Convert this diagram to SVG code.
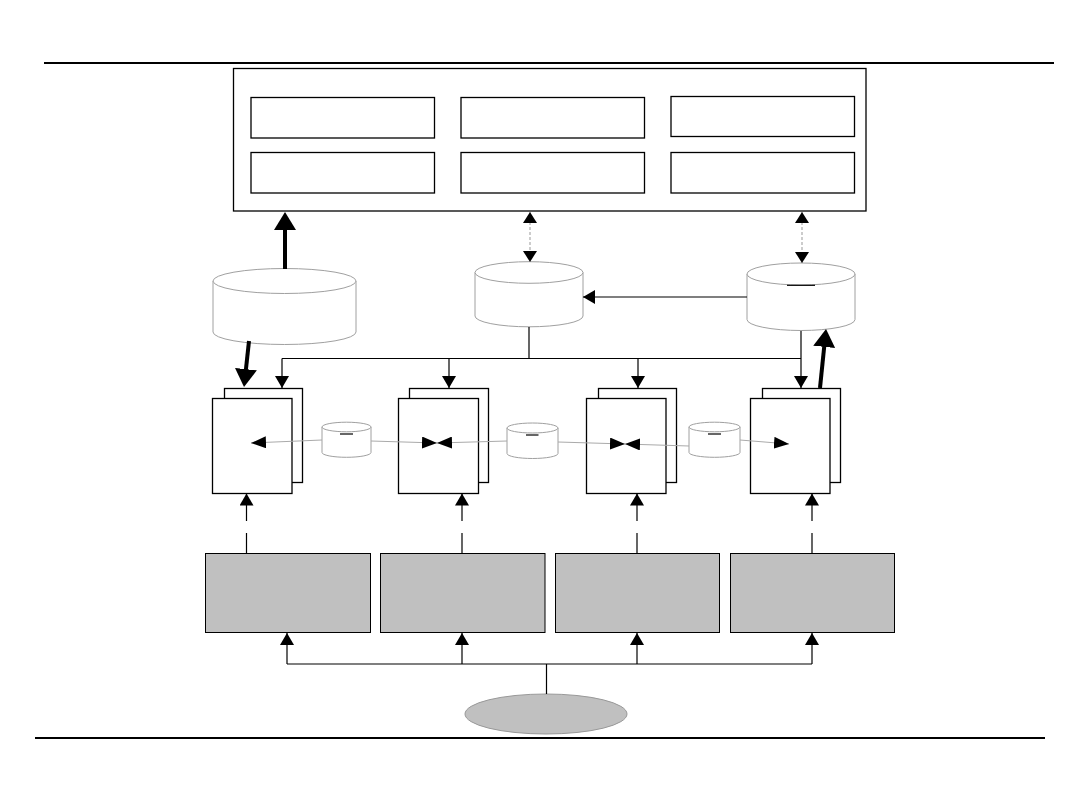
<svg xmlns="http://www.w3.org/2000/svg" width="1080" height="810" viewBox="0 0 1080 810">
<style>
.box{fill:#fff;stroke:#000;stroke-width:1.3}
.gbox{fill:#c0c0c0;stroke:#000;stroke-width:1}
.cyl{fill:#fff;stroke:#a0a0a0;stroke-width:1}
.ln{fill:none;stroke:#000;stroke-width:1.2}
.thick{fill:none;stroke:#000;stroke-width:4}
.dash{fill:none;stroke:#999;stroke-width:1;stroke-dasharray:3,2}
.gl{fill:none;stroke:#aaa;stroke-width:1}
.rule{stroke:#000;stroke-width:2}
.mk{fill:#000}
</style>
<defs>
<marker id="arr" viewBox="0 0 12 14" refX="12" refY="7" markerWidth="12" markerHeight="14" markerUnits="userSpaceOnUse" orient="auto"><path class="mk" d="M0,0 L12,7 L0,14 z"/></marker>
<marker id="sm" viewBox="0 0 11 14" refX="11" refY="7" markerWidth="11" markerHeight="14" markerUnits="userSpaceOnUse" orient="auto"><path class="mk" d="M0,0 L11,7 L0,14 z"/></marker>
<marker id="sms" viewBox="0 0 11 14" refX="0" refY="7" markerWidth="11" markerHeight="14" markerUnits="userSpaceOnUse" orient="auto"><path class="mk" d="M11,0 L0,7 L11,14 z"/></marker>
<marker id="hz" viewBox="0 0 15 12" refX="15" refY="6" markerWidth="15" markerHeight="12" markerUnits="userSpaceOnUse" orient="auto"><path class="mk" d="M0,0 L15,6 L0,12 z"/></marker>
<marker id="thk" viewBox="0 0 18 22" refX="6" refY="11" markerWidth="18" markerHeight="22" markerUnits="userSpaceOnUse" orient="auto"><path class="mk" d="M0,0 L18,11 L0,22 z"/></marker>
</defs>

<line class="rule" x1="44" y1="63" x2="1054" y2="63"/>
<line class="rule" x1="35" y1="738" x2="1045" y2="738"/>

<g id="main-box">
<rect class="box" x="233.5" y="68.5" width="632.5" height="142.5"/>
<rect class="box" x="251" y="97.5" width="183.5" height="40.5"/>
<rect class="box" x="461" y="97.5" width="183.5" height="40.5"/>
<rect class="box" x="671" y="96.5" width="183.5" height="40"/>
<rect class="box" x="251" y="152.5" width="183.5" height="40.5"/>
<rect class="box" x="461" y="152.5" width="183.5" height="40.5"/>
<rect class="box" x="671" y="152.5" width="183.5" height="40.5"/>
</g>

<g id="cyl-left">
<path class="cyl" d="M213,281 V332 A71.5,12.5 0 0 0 356,332 V281"/>
<ellipse class="cyl" cx="284.5" cy="281" rx="71.5" ry="12.5"/>
</g>
<g id="cyl-mid">
<path class="cyl" d="M475,272.5 V316 A54,10.8 0 0 0 583,316 V272.5"/>
<ellipse class="cyl" cx="529" cy="272.5" rx="54" ry="10.8"/>
</g>
<g id="cyl-right">
<path class="cyl" d="M747,274 V319.5 A54,11 0 0 0 855,319.5 V274"/>
<ellipse class="cyl" cx="801" cy="274" rx="54" ry="11"/>
<line class="ln" x1="787" y1="285.3" x2="815" y2="285.3"/>
</g>

<g id="stack-1">
<rect class="box" x="224.5" y="388.5" width="78" height="94"/>
<rect class="box" x="212.5" y="398.5" width="79.5" height="95"/>
</g>
<g id="stack-2">
<rect class="box" x="409.5" y="388.5" width="79" height="94"/>
<rect class="box" x="398.5" y="398.5" width="80" height="95"/>
</g>
<g id="stack-3">
<rect class="box" x="598.5" y="388.5" width="78" height="94"/>
<rect class="box" x="586.5" y="398.5" width="79.5" height="95"/>
</g>
<g id="stack-4">
<rect class="box" x="762.5" y="388.5" width="78" height="94"/>
<rect class="box" x="750.5" y="398.5" width="79.5" height="95"/>
</g>

<g id="cyl-small-a">
<path class="cyl" d="M322,427 V452.5 A24.5,4.8 0 0 0 371,452.5 V427"/>
<ellipse class="cyl" cx="346.5" cy="427" rx="24.5" ry="4.8"/>
<line class="ln" x1="340" y1="434" x2="353" y2="434"/>
</g>
<g id="cyl-small-b">
<path class="cyl" d="M507,428 V453.5 A25.5,5 0 0 0 558,453.5 V428"/>
<ellipse class="cyl" cx="532.5" cy="428" rx="25.5" ry="5"/>
<line class="ln" x1="526" y1="435" x2="538.5" y2="435"/>
</g>
<g id="cyl-small-c">
<path class="cyl" d="M689,427 V452.5 A25.5,4.8 0 0 0 740,452.5 V427"/>
<ellipse class="cyl" cx="714.5" cy="427" rx="25.5" ry="4.8"/>
<line class="ln" x1="708" y1="434" x2="721" y2="434"/>
</g>

<g id="gray-1"><rect class="gbox" x="205.5" y="553.5" width="165" height="79"/></g>
<g id="gray-2"><rect class="gbox" x="380.5" y="553.5" width="164.5" height="79"/></g>
<g id="gray-3"><rect class="gbox" x="555.5" y="553.5" width="164" height="79"/></g>
<g id="gray-4"><rect class="gbox" x="730.5" y="553.5" width="164" height="79"/></g>

<g id="source"><ellipse cx="546" cy="714" rx="81" ry="20" fill="#c0c0c0" stroke="#999" stroke-width="1"/></g>

<g id="connectors">
<line class="thick" x1="285" y1="269" x2="285" y2="224" marker-end="url(#thk)"/>
<line class="thick" x1="249" y1="341" x2="245.3" y2="375.1" marker-end="url(#thk)"/>
<line class="thick" x1="820" y1="388" x2="824.8" y2="340.9" marker-end="url(#thk)"/>

<line class="dash" x1="530" y1="212" x2="530" y2="262" marker-start="url(#sms)" marker-end="url(#sm)"/>
<line class="dash" x1="802" y1="212" x2="802" y2="263" marker-start="url(#sms)" marker-end="url(#sm)"/>

<line class="ln" x1="747" y1="297" x2="583" y2="297" marker-end="url(#arr)"/>

<path class="ln" d="M529,327 V358.5 M282,358.5 H801"/>
<line class="ln" x1="282" y1="358.5" x2="282" y2="388" marker-end="url(#arr)"/>
<line class="ln" x1="449" y1="358.5" x2="449" y2="388" marker-end="url(#arr)"/>
<line class="ln" x1="638" y1="358.5" x2="638" y2="388" marker-end="url(#arr)"/>
<line class="ln" x1="801" y1="331" x2="801" y2="388" marker-end="url(#arr)"/>

<line class="gl" x1="322" y1="440" x2="251" y2="443" marker-end="url(#hz)"/>
<line class="gl" x1="371" y1="441" x2="437" y2="443" marker-end="url(#hz)"/>
<line class="gl" x1="507" y1="441" x2="437" y2="443" marker-end="url(#hz)"/>
<line class="gl" x1="558" y1="442" x2="625" y2="444" marker-end="url(#hz)"/>
<line class="gl" x1="689" y1="446" x2="625" y2="444" marker-end="url(#hz)"/>
<line class="gl" x1="740" y1="440" x2="789" y2="444" marker-end="url(#hz)"/>

<path class="ln" d="M246.5,553 V533 M246.5,521 V493.5" marker-end="url(#arr)"/>
<path class="ln" d="M462,553 V533 M462,521 V493.5" marker-end="url(#arr)"/>
<path class="ln" d="M637,553 V533 M637,521 V493.5" marker-end="url(#arr)"/>
<path class="ln" d="M812,553 V533 M812,521 V493.5" marker-end="url(#arr)"/>

<path class="ln" d="M546.5,694 V664 M287,664 H812"/>
<line class="ln" x1="287" y1="664" x2="287" y2="633" marker-end="url(#arr)"/>
<line class="ln" x1="462" y1="664" x2="462" y2="633" marker-end="url(#arr)"/>
<line class="ln" x1="637" y1="664" x2="637" y2="633" marker-end="url(#arr)"/>
<line class="ln" x1="812" y1="664" x2="812" y2="633" marker-end="url(#arr)"/>
</g>
</svg>
